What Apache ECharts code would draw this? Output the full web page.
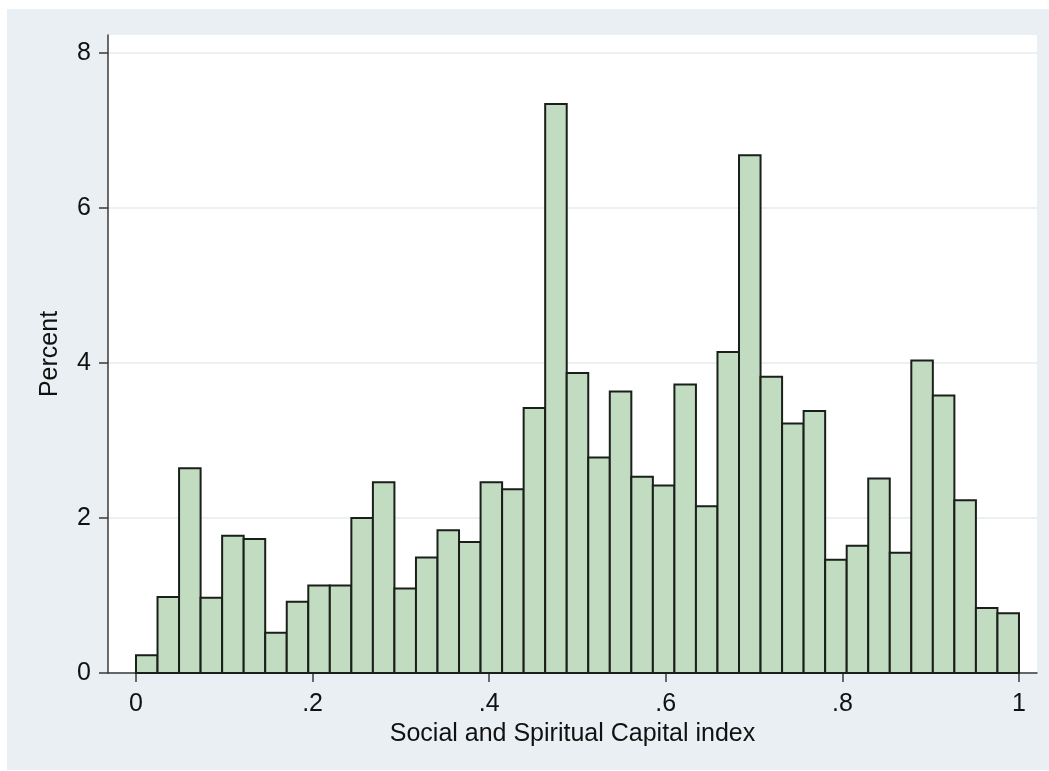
<!DOCTYPE html>
<html>
<head>
<meta charset="utf-8">
<script src="https://cdn.jsdelivr.net/npm/echarts@6/dist/echarts.min.js"></script>
<style>
html,body{margin:0;padding:0;background:#ffffff;}
#chart{width:1049px;height:771px;}
</style>
</head>
<body>
<div id="chart"></div>
<script>
// Histogram of Social and Spiritual Capital index (41 bins from 0 to 1)
const binMin = 0;
const binMax = 1;
const percentValues = [0.23, 0.98, 2.64, 0.97, 1.77, 1.73, 0.52, 0.92, 1.13, 1.13,
                       2.00, 2.46, 1.09, 1.49, 1.84, 1.69, 2.46, 2.37, 3.42, 7.34,
                       3.87, 2.78, 3.63, 2.53, 2.42, 3.72, 2.15, 4.14, 6.68, 3.82,
                       3.22, 3.38, 1.46, 1.64, 2.51, 1.55, 4.03, 3.58, 2.23, 0.84, 0.77];
const xTicks = [0, 0.2, 0.4, 0.6, 0.8, 1];
const yTicks = [0, 2, 4, 6, 8];
const xTitle = 'Social and Spiritual Capital index';
const yTitle = 'Percent';

const binWidth = (binMax - binMin) / percentValues.length;
const histData = percentValues.map((v, i) => [binMin + i * binWidth, binMin + (i + 1) * binWidth, v]);

const chart = echarts.init(document.getElementById('chart'), null, {renderer: 'canvas'});
const FONT = 'Liberation Sans, Arial, Helvetica, sans-serif';
const fmtX = v => {
  const r = Math.round(v * 10) / 10;
  if (r === 0) return '0';
  if (r === 1) return '1';
  return String(r).replace(/^0/, '');
};

chart.setOption({
  animation: false,
  backgroundColor: '#ffffff',
  graphic: [{
    type: 'rect', z: -10, silent: true,
    shape: {x: 7, y: 9, width: 1042, height: 761},
    style: {fill: '#e9eff2'}
  }],
  grid: {left: 108, right: 12, top: 35, bottom: 98, show: true, backgroundColor: '#ffffff', borderWidth: 0},
  xAxis: {
    type: 'value', min: -0.0317, max: 1.0204,
    name: xTitle, nameLocation: 'middle', nameGap: 46,
    nameTextStyle: {fontFamily: FONT, fontSize: 25, color: '#111111'},
    axisLine: {show: true, onZero: false, lineStyle: {color: '#3a3a3a', width: 1.5}},
    axisTick: {show: true, length: 9, customValues: xTicks, lineStyle: {color: '#3a3a3a', width: 1.5}},
    axisLabel: {customValues: xTicks, formatter: fmtX, margin: 19, fontFamily: FONT, fontSize: 25, color: '#111111'},
    splitLine: {show: false}
  },
  yAxis: {
    type: 'value', min: 0, max: 8.23,
    name: yTitle, nameLocation: 'middle', nameGap: 45, nameRotate: 90,
    nameTextStyle: {fontFamily: FONT, fontSize: 25, color: '#111111'},
    axisLine: {show: true, onZero: false, lineStyle: {color: '#3a3a3a', width: 1.5}},
    axisTick: {show: true, length: 9, customValues: yTicks, lineStyle: {color: '#3a3a3a', width: 1.5}},
    axisLabel: {customValues: yTicks, margin: 17, fontFamily: FONT, fontSize: 25, color: '#111111'},
    splitLine: {show: true, lineStyle: {color: '#e4ecef', width: 1.5}}
  },
  series: [{
    type: 'custom',
    data: histData,
    encode: {x: [0, 1], y: 2},
    renderItem: function (params, api) {
      const p0 = api.coord([api.value(0), 0]);
      const p1 = api.coord([api.value(1), api.value(2)]);
      return {
        type: 'rect',
        shape: {x: p0[0], y: p1[1], width: p1[0] - p0[0], height: p0[1] - p1[1]},
        style: {fill: '#c1dcc1', stroke: '#1a1f1a', lineWidth: 2}
      };
    }
  }]
});
</script>
</body>
</html>
